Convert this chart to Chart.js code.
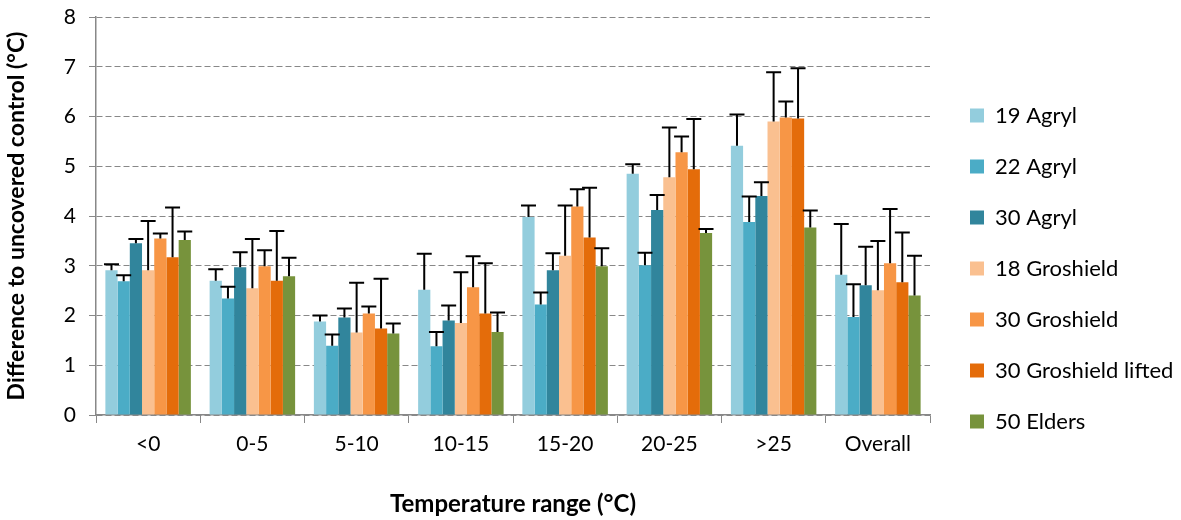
<!DOCTYPE html>
<html>
<head>
<meta charset="utf-8">
<script src="https://cdn.jsdelivr.net/npm/chart.js@4.4.0/dist/chart.umd.min.js"></script>
<style>
  html, body { margin: 0; padding: 0; background: #fff; }
  #wrap { width: 1181px; height: 520px; }
</style>
</head>
<body>
<div id="wrap"><canvas id="chart"></canvas></div>
<script>
const categories = ['<0', '0-5', '5-10', '10-15', '15-20', '20-25', '>25', 'Overall'];

// mean difference per temperature range, and the upper error bar length
const agryl19 = [2.91, 2.70, 1.88, 2.52, 3.98, 4.85, 5.41, 2.82];
const agryl19Err = [0.12, 0.23, 0.12, 0.72, 0.23, 0.19, 0.63, 1.02];
const agryl22 = [2.69, 2.34, 1.39, 1.38, 2.22, 3.01, 3.88, 1.97];
const agryl22Err = [0.12, 0.24, 0.23, 0.29, 0.24, 0.25, 0.51, 0.66];
const agryl30 = [3.45, 2.97, 1.96, 1.90, 2.91, 4.12, 4.40, 2.61];
const agryl30Err = [0.09, 0.30, 0.18, 0.30, 0.34, 0.30, 0.28, 0.77];
const groshield18 = [2.91, 2.55, 1.66, 1.85, 3.20, 4.78, 5.90, 2.51];
const groshield18Err = [0.99, 0.99, 1.00, 1.02, 1.01, 1.00, 0.99, 0.99];
const groshield30 = [3.55, 2.99, 2.04, 2.57, 4.19, 5.28, 5.98, 3.05];
const groshield30Err = [0.10, 0.32, 0.14, 0.62, 0.35, 0.32, 0.32, 1.09];
const groshield30Lifted = [3.17, 2.70, 1.74, 2.04, 3.57, 4.94, 5.96, 2.67];
const groshield30LiftedErr = [1.00, 1.00, 1.00, 1.01, 1.00, 1.01, 1.01, 1.00];
const elders50 = [3.52, 2.79, 1.64, 1.67, 2.99, 3.66, 3.77, 2.40];
const elders50Err = [0.17, 0.37, 0.20, 0.39, 0.36, 0.08, 0.34, 0.80];

const yMin = 0, yMax = 8, yStep = 1;

const series = [
  ['19 Agryl', agryl19, agryl19Err, '#93CDDD'],
  ['22 Agryl', agryl22, agryl22Err, '#4BACC6'],
  ['30 Agryl', agryl30, agryl30Err, '#31859C'],
  ['18 Groshield', groshield18, groshield18Err, '#FAC090'],
  ['30 Groshield', groshield30, groshield30Err, '#F79646'],
  ['30 Groshield lifted', groshield30Lifted, groshield30LiftedErr, '#E46C0A'],
  ['50 Elders', elders50, elders50Err, '#77933C']
];

const gridGrey = '#888888';

// upward error bars, drawn from the bar top through the y scale
const errorBars = {
  id: 'errorBars',
  afterDatasetsDraw(chart) {
    const ctx = chart.ctx;
    const y = chart.scales.y;
    ctx.save();
    ctx.strokeStyle = '#000';
    ctx.lineWidth = 2;
    chart.data.datasets.forEach((ds, i) => {
      const meta = chart.getDatasetMeta(i);
      meta.data.forEach((bar, j) => {
        const top = y.getPixelForValue(ds.data[j] + ds.errors[j]);
        ctx.beginPath();
        ctx.moveTo(bar.x, bar.y);
        ctx.lineTo(bar.x, top);
        ctx.moveTo(bar.x - 7.5, top);
        ctx.lineTo(bar.x + 7.5, top);
        ctx.stroke();
      });
    });
    ctx.restore();
  }
};

// fixed legend width, items nudged right
const legendPlace = {
  id: 'legendPlace',
  beforeLayout(chart) {
    const lg = chart.legend;
    if (lg && !lg._patched) {
      const fit = lg.fit;
      lg.fit = function () { fit.call(this); this.width = 251; };
      lg._patched = true;
    }
  },
  afterLayout(chart) {
    chart.legend.left += 11;
  }
};

Chart.defaults.font.family = 'Lato';
Chart.defaults.color = '#000';

new Chart(document.getElementById('chart'), {
  type: 'bar',
  data: {
    labels: categories,
    datasets: series.map(([label, values, errors, color]) => ({
      label: label,
      data: values,
      errors: errors,
      backgroundColor: color,
      borderWidth: 0,
      categoryPercentage: 0.82,
      barPercentage: 1.0
    }))
  },
  options: {
    responsive: true,
    maintainAspectRatio: false,
    animation: false,
    layout: { padding: { top: 17, left: 0, right: 0, bottom: 0 } },
    plugins: {
      tooltip: { enabled: false },
      legend: {
        position: 'right',
        align: 'center',
        labels: {
          boxWidth: 14,
          boxHeight: 14,
          padding: 29,
          font: { size: 22 },
          color: '#000'
        }
      }
    },
    scales: {
      x: {
        afterFit: s => { s.height = 105; },
        grid: {
          drawOnChartArea: false,
          tickLength: 8,
          tickColor: gridGrey,
          offset: true
        },
        border: { color: gridGrey, width: 1.5 },
        ticks: { font: { size: 21 }, padding: 9, color: '#000' },
        title: {
          display: true,
          text: 'Temperature range (°C)',
          font: { size: 24, weight: 'bold' },
          padding: { top: 0, bottom: 1 },
          color: '#000'
        }
      },
      y: {
        min: yMin,
        max: yMax,
        afterFit: s => { s.width = 96; s.paddingTop = 0; s.paddingBottom = 0; },
        grid: {
          color: gridGrey,
          lineWidth: 1,
          tickLength: 7,
          tickColor: gridGrey
        },
        border: { color: gridGrey, width: 1.5, dash: [6, 3] },
        ticks: { stepSize: yStep, font: { size: 21 }, padding: 13, color: '#000' },
        title: {
          display: true,
          text: 'Difference to uncovered control (°C)',
          font: { size: 23, weight: 'bold' },
          padding: { top: 3, bottom: 0 },
          color: '#000'
        }
      }
    }
  },
  plugins: [errorBars, legendPlace]
});
</script>
</body>
</html>
